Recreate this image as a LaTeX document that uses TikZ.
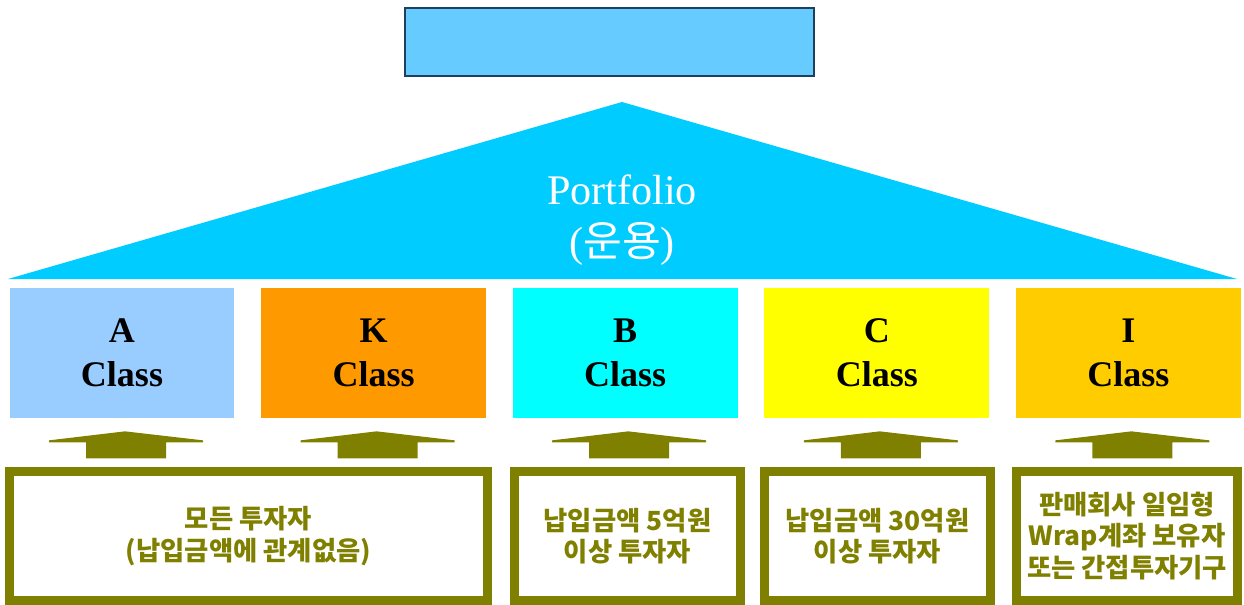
\documentclass[tikz,border=0pt]{standalone}
\usepackage{fontspec}
\setmainfont{Liberation Serif}
\newfontfamily\kr{Noto Sans CJK KR}
\usetikzlibrary{calc}

\definecolor{headblue}{HTML}{66CCFF}
\definecolor{headline}{HTML}{1F3F5F}
\definecolor{roofblue}{HTML}{00CCFF}
\definecolor{clsA}{HTML}{99CCFF}
\definecolor{clsK}{HTML}{FF9900}
\definecolor{clsB}{HTML}{00FFFF}
\definecolor{clsC}{HTML}{FFFF00}
\definecolor{clsI}{HTML}{FFCC00}
\definecolor{involive}{HTML}{808000}

\begin{document}
\begin{tikzpicture}[
    x=0.02cm, y=-0.02cm,
    cls/.style={rectangle, minimum width=4.5cm, minimum height=2.6cm, inner sep=0pt, align=center, font=\fontsize{20.5}{25}\selectfont\bfseries},
    inv/.style={rectangle, draw=involive, line width=5.1pt, minimum height=2.58cm, inner sep=0pt, align=center, text=involive, font=\kr\bfseries\fontsize{15}{18}\selectfont},
    lift/.style={fill=involive}
]
\useasboundingbox (0,0) rectangle (1244,605);

% title box and roof
\node[rectangle, draw=headline, line width=1.1pt, fill=headblue, minimum width=8.18cm, minimum height=1.36cm] (title) at (609.5,42) {};
\fill[roofblue] (8,279) -- (622,102) -- (1237,279) -- cycle;
\node[align=center, text=white, font=\fontsize{24}{30}\selectfont] (port) at (622,220) {Portfolio\\({\kr 운용})};

% share classes
\node[cls, fill=clsA] (a) at (122,353) {A\\Class};
\node[cls, fill=clsK] (k) at (373.6,353) {K\\Class};
\node[cls, fill=clsB] (b) at (625.2,353) {B\\Class};
\node[cls, fill=clsC] (c) at (876.8,353) {C\\Class};
\node[cls, fill=clsI] (i) at (1128.4,353) {I\\Class};

% investors
\node[inv, minimum width=9.56cm] (invA) at (248.5,536) {모든 투자자\\(납입금액에 관계없음)};
\node[inv, minimum width=4.52cm] (invB) at (627.5,536) {납입금액 5억원\\이상 투자자};
\node[inv, minimum width=4.52cm] (invC) at (877.5,536) {납입금액 30억원\\이상 투자자};
\node[inv, minimum width=4.42cm] (invI) at (1127,536) {판매회사 일임형\\Wrap계좌 보유자\\또는 간접투자기구};

\foreach \c in {a,k,b,c,i}
  \fill[lift] ($(\c.south)+(3,13)$) -- ++(78,9) -- ++(0,2) -- ++(-37,0) -- ++(0,16) -- ++(-80,0) -- ++(0,-16) -- ++(-37,0) -- ++(0,-2) -- cycle;
\end{tikzpicture}
\end{document}
